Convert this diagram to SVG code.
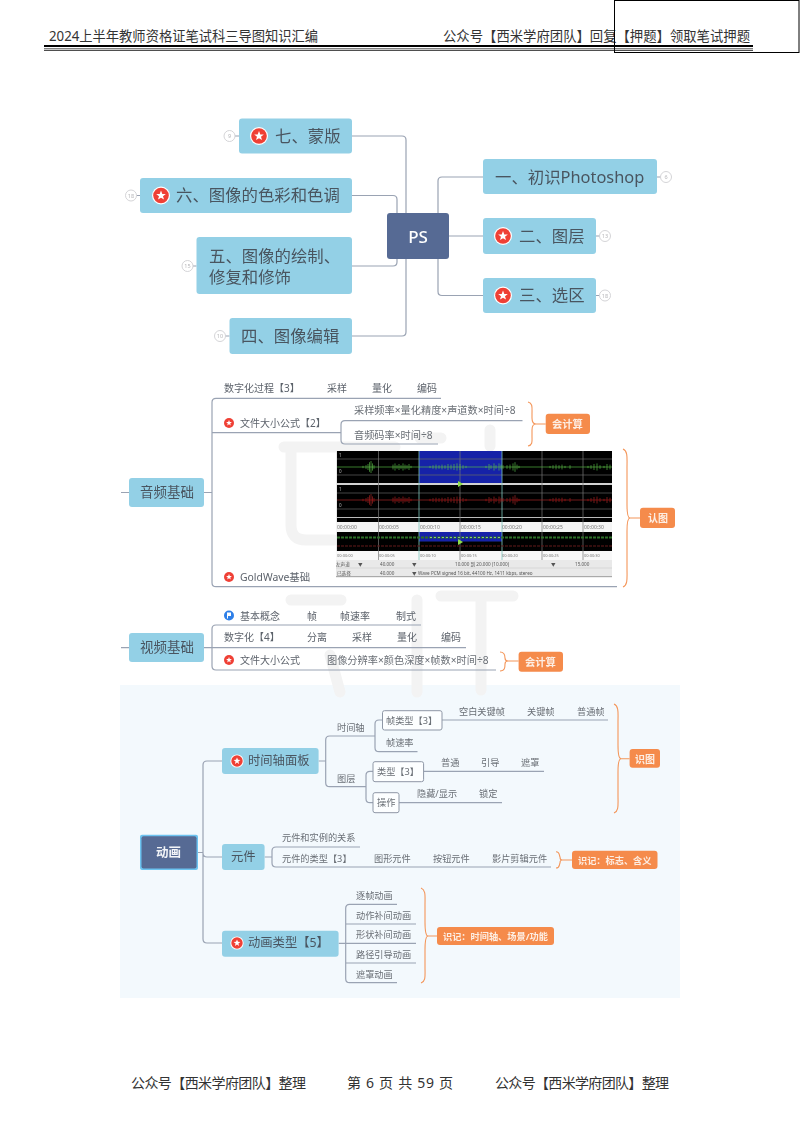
<svg xmlns="http://www.w3.org/2000/svg" width="800" height="1132" viewBox="0 0 800 1132">
<style>
text{font-family:"Noto Sans","Noto Sans CJK SC",sans-serif;fill:#5c626b;dominant-baseline:central}
g[id^="n-"],#connectors,#watermark{filter:url(#soft)}
.hd{font-size:14px;fill:#333}
.n{fill:#93d0e6}
.t1{font-size:16.4px;fill:#4a5560}
.t2{font-size:13.5px;fill:#4a5560}
.t3{font-size:12.3px;fill:#4a5560}
.s{font-size:10px}
.f{font-size:10.2px;fill:#6a6f76}
.x{font-size:9.2px;fill:#6a6f76}
.or{fill:#f58b4c}
.ol{font-weight:700;fill:#fdeee3}
.c{fill:none;stroke:#9aa3b3;stroke-width:1.2}
.b{fill:none;stroke:#f4965a;stroke-width:1.1}
.bx{fill:#fcfeff;stroke:#8e97a6;stroke-width:1}
.wm{fill:none;stroke:#f3f3f3;stroke-width:11;stroke-linecap:round;stroke-linejoin:round}
.num{fill:#fff;stroke:#cfcfd2;stroke-width:.9}
.nt{font-size:5.5px;fill:#b5b5b8;text-anchor:middle}
.r1{font-size:5px;fill:#777}
.r2{font-size:4px;fill:#777}
.st{font-size:4.6px;fill:#555}
.wave{fill:none;stroke-width:.8}
</style>
<defs>
<filter id="soft" x="-5%" y="-5%" width="110%" height="110%"><feGaussianBlur stdDeviation="0.4"/></filter>
<g id="star"><circle r="9" fill="#fff"/><circle r="7.800" fill="#ef4136"/><polygon fill="#fff" points="0,-5 1.300,-1.600 4.800,-1.500 2,.7 3,4.100 0,2.200 -3,4.100 -2,.7 -4.800,-1.500 -1.300,-1.600"/></g>
<g id="star-s"><circle r="5" fill="#ef4136"/><polygon fill="#fff" points="0,-3 .8,-1 2.900,-.9 1.200,.4 1.800,2.500 0,1.300 -1.800,2.500 -1.200,.4 -2.900,-.9 -.8,-1"/></g>
<g id="star-m"><circle r="6.600" fill="#fff"/><circle r="5.700" fill="#ef4136"/><polygon fill="#fff" points="0,-3.600 1,-1.200 3.400,-1.100 1.400,.5 2.100,2.900 0,1.500 -2.100,2.900 -1.400,.5 -3.400,-1.100 -1,-1.200"/></g>
<path id="burst" d="M337 0H612M363 -2V2M366 -3V3M368 -5V5M369.500 -8V8M371 -10V10M372.500 -6V6M374 -3V3M393 -4V4M395 -6V6M397 -3V3M399 -5V5M401 -3V3M403 -6V6M405 -4V4M407 -3V3M409 -5V5M411 -2V2M430 -2V2M433 -3V3M436 -4V4M439 -3V3M442 -4V4M445 -3V3M448 -5V5M451 -4V4M454 -5V5M457 -6V6M460 -5V5M463 -3V3M466 -2V2M486 -2V2M489 -5V5M491 -3V3M494 -6V6M496 -3V3M499 -6V6M501 -4V4M503 -3V3M507 -3V3M510 -4V4M513 -6V6M515 -8V8M517 -4V4M519 -2V2M550 -2V2M553 -3V3M556 -4V4M559 -3V3M562 -4V4M565 -2V2M570 -3V3M588 -2V2M591 -3V3M594 -5V5M597 -6V6M600 -3V3M604 -2V2M607 -5V5M610 -4V4"/>
</defs>
<rect width="800" height="1132" fill="#fff"/>

<g id="panel-bg"><rect x="120" y="685" width="560" height="313" fill="#f3f9fd"/></g>

<g id="watermark">
<path class="wm" d="M284 447H395M291 447V525Q291 540 306 540H334M420 438H441M490 430V446"/>
<path class="wm" d="M291 600H341M441 596H513M330 655L340 692M417 600V692M481 596V690"/>
</g>

<g id="header">
<text class="hd" x="49" y="35" textLength="269" lengthAdjust="spacingAndGlyphs">2024上半年教师资格证笔试科三导图知识汇编</text>
<text class="hd" x="443" y="35" textLength="307" lengthAdjust="spacingAndGlyphs">公众号【西米学府团队】回复【押题】领取笔试押题</text>
<path d="M44 46H753" stroke="#000" stroke-width="2" fill="none"/>
<path d="M44 48.800H753M44 50.500H753" stroke="#222" stroke-width=".8" fill="none"/>
<rect x="614.500" y=".5" width="184.500" height="52" fill="none" stroke="#000" stroke-width="1"/>
</g>

<g id="connectors">
<path class="c" d="M352 136H402Q406 136 406 140V213M352 195.500H393Q397 195.500 397 199.500V213M352 266H393Q397 266 397 262V259M352 336H402Q406 336 406 332V259"/>
<path class="c" d="M483 177H442Q438 177 438 181V213M449 236H483M483 295.500H442Q438 295.500 438 291.500V259"/>
<path class="c" d="M235 136H239M136.500 195.500H140M193 266H196.500M225.500 336H229.500M657 177H660.500M596 236H599.500M596 295.500H599.500"/>

<path class="c" d="M121 492.500H129M204 492.500H212M441 398.300H216Q212 398.300 212 402.300V582.700Q212 586.700 216 586.700H617M212 432.700Q212 432.700 216 432.700H341"/>
<path class="c" d="M522.500 420.700H345Q341 420.700 341 424.700V440Q341 444 345 444H438"/>
<path class="c" d="M121 647.700H466M421 625H216Q212 625 212 629V666Q212 670 216 670H496"/>

<path class="c" d="M197 852.500H203M222 761H207Q203 761 203 765V939Q203 943 207 943H222M203 853Q203 857 207 857H222"/>
<path class="c" d="M318.600 761H325.700M375 736H329.700Q325.700 736 325.700 740V782.700Q325.700 786.700 329.700 786.700H366"/>
<path class="c" d="M382.500 720H379Q375 720 375 724V747.700Q375 751.700 379 751.700H417.500M442 720H608"/>
<path class="c" d="M373 771.300H370Q366 771.300 366 775.300V798.700Q366 802.700 370 802.700H373M423.600 771.300H544M399 802.700H502"/>
<path class="c" d="M264.600 857H272M360 847H276Q272 847 272 851V863Q272 867 276 867H551"/>
<path class="c" d="M338.600 943.300H416M397 904.300H349.700Q345.700 904.300 345.700 908.300V978.700Q345.700 982.700 349.700 982.700H397M345.700 924H416M345.700 963H416"/>

<path class="b" d="M528 402C533 403 532 408 532 414V418C532 422 534 424 536 424C534 424 532 426 532 430V436C532 441 533 445 528 446M536 424H545.700"/>
<path class="b" d="M623 449C628 451 627 458 627 468V505C627 513 628 518 630 518C628 518 627 523 627 531V568C627 578 628 585 623 587M630 518H640"/>
<path class="b" d="M500 652C505 652 505 656 505 658C505 660 506 661 508 661C506 661 505 662 505 664C505 667 505 671 500 671M508 661H518.600"/>
<path class="b" d="M614 704C619 706 618 713 618 722V745C618 753 619 758.700 621 758.700C619 758.700 618 764 618 772V795C618 805 619 811 614 813M621 758.700H629.600"/>
<path class="b" d="M556 851.700C560 851.700 559 855 560 857C560 859 561 860 562 860C561 860 560 861 560 863C559 865 560 868 556 868M562 860H572"/>
<path class="b" d="M421 888C426 890 425 896 425 905V922C425 930 426 936 428 936C426 936 425 942 425 950V967C425 976 426 981 421 983M428 936H437"/>
</g>

<g id="n-ps"><rect x="387" y="213" width="62" height="46" rx="3" fill="#566b94"/><text x="418" y="236" text-anchor="middle" style="fill:#fff;font-size:17px;font-weight:500">PS</text></g>
<g id="n-7"><circle class="num" cx="229.500" cy="136" r="5.500"/><text class="nt" x="229.500" y="136">9</text><rect class="n" x="239" y="118.500" width="113" height="35" rx="3"/><use href="#star" x="259" y="136"/><text class="t1" x="275" y="135">七、蒙版</text></g>
<g id="n-6"><circle class="num" cx="131" cy="195.500" r="5.500"/><text class="nt" x="131" y="195.500">18</text><rect class="n" x="140" y="178" width="212" height="35" rx="3"/><use href="#star" x="161" y="195.500"/><text class="t1" x="176" y="194.500">六、图像的色彩和色调</text></g>
<g id="n-5"><circle class="num" cx="187.500" cy="266" r="5.500"/><text class="nt" x="187.500" y="266">15</text><rect class="n" x="196.500" y="237" width="155.500" height="57" rx="3"/><text class="t1"><tspan x="209" y="254.500">五、图像的绘制、</tspan><tspan x="209" y="275.500">修复和修饰</tspan></text></g>
<g id="n-4"><circle class="num" cx="220" cy="336" r="5.500"/><text class="nt" x="220" y="336">10</text><rect class="n" x="229.500" y="318" width="122.500" height="36" rx="3"/><text class="t1" x="241" y="335">四、图像编辑</text></g>
<g id="n-1"><rect class="n" x="483" y="159" width="174" height="35" rx="3"/><text class="t1" x="495" y="176">一、初识Photoshop</text><circle class="num" cx="666" cy="177" r="5.500"/><text class="nt" x="666" y="177">6</text></g>
<g id="n-2"><rect class="n" x="483" y="218" width="113" height="36" rx="3"/><use href="#star" x="503" y="236"/><text class="t1" x="519" y="235">二、图层</text><circle class="num" cx="605" cy="236" r="5.500"/><text class="nt" x="605" y="236">13</text></g>
<g id="n-3"><rect class="n" x="483" y="278" width="113" height="35" rx="3"/><use href="#star" x="503" y="295.500"/><text class="t1" x="519" y="294.500">三、选区</text><circle class="num" cx="605" cy="295.500" r="5.500"/><text class="nt" x="605" y="295.500">18</text></g>

<g id="n-audio"><rect class="n" x="129" y="478" width="75" height="29" rx="3"/><text class="t2" x="140" y="492">音频基础</text></g>
<g id="n-audio-digit"><text class="s" x="224" y="388">数字化过程【3】</text><text class="s" x="327" y="388">采样</text><text class="s" x="372" y="388">量化</text><text class="s" x="417" y="388">编码</text></g>
<g id="n-audio-size"><use href="#star-s" x="229" y="423"/><text class="s" x="240" y="423">文件大小公式【2】</text><text class="f" x="354" y="410">采样频率×量化精度×声道数×时间÷8</text><text class="f" x="354" y="435">音频码率×时间÷8</text></g>
<g id="n-audio-gw"><use href="#star-s" x="229" y="577"/><text class="s" x="240" y="577" style="font-size:10.400px">GoldWave基础</text></g>

<g id="n-waveform">
<rect x="336" y="451" width="276" height="126" fill="#e9e9e9"/>
<rect x="337" y="451" width="275" height="32" fill="#000"/>
<rect x="419" y="451" width="83" height="32" fill="#1524a8"/>
<rect x="337" y="485" width="275" height="37" fill="#000"/>
<rect x="336" y="522" width="276" height="10" fill="#f4f4f4"/>
<rect x="337" y="532" width="275" height="19" fill="#050505"/>
<rect x="419" y="532" width="83" height="9.500" fill="#1524a8"/>
<rect x="336" y="551" width="276" height="9" fill="#f8f8f8"/>
<path d="M337 459H612M337 475H612M337 493H612M337 509H612" stroke="#666" stroke-width=".7" fill="none"/>
<path d="M337 484H612M337 517.500H612" stroke="#bbb" stroke-width="1.200" fill="none"/>
<path d="M378.500 451V560M460 451V560M542 451V560M583 451V560" stroke="#777" stroke-width=".7" fill="none"/>
<path d="M419 451V560M502 451V560" stroke="#7fc7bd" stroke-width=".8" fill="none"/>
<use href="#burst" transform="translate(0 467) scale(1 .6)" class="wave" stroke="#5cc04a"/>
<use href="#burst" transform="translate(0 500) scale(1 .6)" class="wave" stroke="#b01c20"/>
<path d="M337 537.500H612" stroke="#2f6e26" stroke-width="1.800" stroke-dasharray="3 1"/>
<path d="M337 546H612" stroke="#5e1012" stroke-width="1.200" stroke-dasharray="3 1"/>
<path d="M430 537.500H500" stroke="#9ae58c" stroke-width=".8" stroke-dasharray="2 2"/>
<polygon points="458,481 458,487 463,484" fill="#8fe04a"/><polygon points="458,539 458,545 463,542" fill="#8fe04a"/>
<text class="r1" x="337" y="527">00:00:00</text><text class="r1" x="379" y="527">00:00:05</text><text class="r1" x="420" y="527">00:00:10</text><text class="r1" x="461" y="527">00:00:15</text><text class="r1" x="502" y="527">00:00:20</text><text class="r1" x="543" y="527">00:00:25</text><text class="r1" x="584" y="527">00:00:30</text>
<text class="r2" x="337" y="555.500">00:00:00</text><text class="r2" x="379" y="555.500">00:00:05</text><text class="r2" x="420" y="555.500">00:00:10</text><text class="r2" x="461" y="555.500">00:00:15</text><text class="r2" x="502" y="555.500">00:00:20</text><text class="r2" x="543" y="555.500">00:00:25</text><text class="r2" x="584" y="555.500">00:00:30</text>
<path d="M336 568H612" stroke="#cfcfcf" stroke-width=".6"/><rect x="336" y="576" width="276" height="1.200" fill="#aaa"/>
<text class="st" x="336" y="564">左声道</text><text class="st" x="358" y="564">▼</text><text class="st" x="380" y="564">40.000</text><text class="st" x="412" y="564">▼</text><text class="st" x="455" y="564">10.000 到 20.000 (10.000)</text><text class="st" x="551" y="564">▼</text><text class="st" x="575" y="564">15.000</text>
<text class="st" x="337" y="573">已选择</text><text class="st" x="380" y="573">40.000</text><text class="st" x="412" y="573">▼</text><text class="st" x="418" y="573">Wave PCM signed 16 bit, 44100 Hz, 1411 kbps, stereo</text>
<text x="339" y="455" style="font-size:4.500px;fill:#bbb">1</text><text x="339" y="471" style="font-size:4.500px;fill:#bbb">0</text><text x="339" y="489" style="font-size:4.500px;fill:#bbb">1</text><text x="339" y="505" style="font-size:4.500px;fill:#bbb">0</text>
</g>

<g id="n-calc1"><rect class="or" x="545.700" y="413.700" width="44.300" height="20.300" rx="3"/><text class="s ol" x="552" y="424" style="font-size:10.300px">会计算</text></g>
<g id="n-rt"><rect class="or" x="640" y="507.700" width="35" height="20.300" rx="3"/><text class="s ol" x="648" y="518">认图</text></g>

<g id="n-video"><rect class="n" x="129" y="633" width="75" height="29" rx="3"/><text class="t2" x="140" y="647">视频基础</text></g>
<g id="n-video-basic"><circle cx="229" cy="615.500" r="5" fill="#2f7fe8"/><path d="M227 612.500H231V616H228V618.500H227Z" fill="#fff"/><text class="s" x="240" y="615.700">基本概念</text><text class="s" x="307" y="615.700">帧</text><text class="s" x="340" y="615.700">帧速率</text><text class="s" x="396" y="615.700">制式</text></g>
<g id="n-video-digit"><text class="s" x="224" y="637">数字化【4】</text><text class="s" x="307" y="637">分离</text><text class="s" x="352" y="637">采样</text><text class="s" x="397" y="637">量化</text><text class="s" x="441" y="637">编码</text></g>
<g id="n-video-size"><use href="#star-s" x="229" y="660"/><text class="s" x="240" y="660">文件大小公式</text><text class="f" x="327" y="660">图像分辨率×颜色深度×帧数×时间÷8</text></g>
<g id="n-calc2"><rect class="or" x="518.600" y="651.700" width="44.400" height="20" rx="3"/><text class="s ol" x="525" y="662" style="font-size:10.300px">会计算</text></g>

<g id="n-anim"><rect x="140" y="834.700" width="58" height="35.300" rx="2" fill="#6cc3f0"/><rect x="141.500" y="836.200" width="55" height="32.300" rx="2" fill="#566b94"/><text x="156" y="852" style="font-size:12.500px;font-weight:700;fill:#f2f4f8">动画</text></g>
<g id="n-timeline"><rect class="n" x="222" y="748" width="96.600" height="26" rx="3"/><use href="#star-m" x="237" y="761"/><text class="t3" x="248" y="760.500">时间轴面板</text></g>
<g id="n-tl-axis"><text class="x" x="337" y="727">时间轴</text></g>
<g id="n-tl-frametype"><rect class="bx" x="382.500" y="710.700" width="59.500" height="19.300" rx="2"/><text class="x" x="386" y="720.500">帧类型【3】</text></g>
<g id="n-tl-rate"><text class="x" x="386" y="742.700">帧速率</text></g>
<g id="n-tl-frames"><text class="x" x="459" y="711">空白关键帧</text><text class="x" x="527" y="711">关键帧</text><text class="x" x="577" y="711">普通帧</text></g>
<g id="n-tl-layer"><text class="x" x="337" y="778">图层</text></g>
<g id="n-tl-type"><rect class="bx" x="373" y="761.700" width="50.600" height="20" rx="2"/><text class="x" x="377" y="771.500">类型【3】</text></g>
<g id="n-tl-layers"><text class="x" x="441" y="762">普通</text><text class="x" x="481" y="762">引导</text><text class="x" x="521" y="762">遮罩</text></g>
<g id="n-tl-op"><rect class="bx" x="373" y="792.700" width="26" height="20" rx="2"/><text class="x" x="377" y="802.500">操作</text></g>
<g id="n-tl-ops"><text class="x" x="417" y="793">隐藏/显示</text><text class="x" x="479" y="793">锁定</text></g>
<g id="n-rt2"><rect class="or" x="629.600" y="749" width="30.400" height="18.700" rx="3"/><text class="x ol" x="635" y="758.500" style="font-size:10px">识图</text></g>

<g id="n-symbol"><rect class="n" x="222" y="844" width="42.600" height="26" rx="3"/><text class="t3" x="231" y="856.500">元件</text></g>
<g id="n-sym-rel"><text class="x" x="282" y="837.700">元件和实例的关系</text></g>
<g id="n-sym-types"><text class="x" x="282" y="858">元件的类型【3】</text><text class="x" x="374" y="858">图形元件</text><text class="x" x="433" y="858">按钮元件</text><text class="x" x="492" y="858">影片剪辑元件</text></g>
<g id="n-note1"><rect class="or" x="572" y="850.700" width="85.500" height="18.300" rx="3"/><text class="x ol" x="578" y="860">识记：标志、含义</text></g>

<g id="n-animtype"><rect class="n" x="222" y="930.700" width="116.600" height="26" rx="3"/><use href="#star-m" x="237" y="943"/><text class="t3" x="248" y="942.500">动画类型【5】</text></g>
<g id="n-at-1"><text class="x" x="356" y="895.700">逐帧动画</text></g>
<g id="n-at-2"><text class="x" x="356" y="915">动作补间动画</text></g>
<g id="n-at-3"><text class="x" x="356" y="934">形状补间动画</text></g>
<g id="n-at-4"><text class="x" x="356" y="954">路径引导动画</text></g>
<g id="n-at-5"><text class="x" x="356" y="974">遮罩动画</text></g>
<g id="n-note2"><rect class="or" x="437" y="927" width="117" height="18" rx="3"/><text class="x ol" x="443" y="936">识记：时间轴、场景/功能</text></g>

<g id="footer">
<text class="hd" x="131" y="1082" textLength="175">公众号【西米学府团队】整理</text>
<text class="hd" x="347" y="1082" textLength="106">第 6 页 共 59 页</text>
<text class="hd" x="495" y="1082" textLength="174">公众号【西米学府团队】整理</text>
</g>
</svg>
